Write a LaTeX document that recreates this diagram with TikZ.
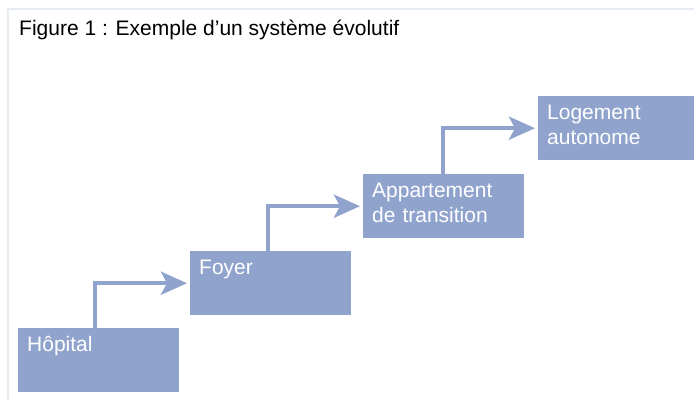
\documentclass[tikz,border=0pt]{standalone}
\usepackage{fontspec}
\setmainfont{Liberation Sans}
\usetikzlibrary{arrows.meta}

\definecolor{stepblue}{RGB}{143,163,204}
\definecolor{framegray}{RGB}{230,234,242}

\begin{document}
\begin{tikzpicture}[x = 1pt, y = 1pt,
		stepbox/.style = {fill = stepblue, text = white, anchor = north west, align = left,
			minimum width = 161pt, text width = 143pt, inner xsep = 9pt, inner ysep = 0pt,
			text height = 23.5pt, text depth = 40.5pt, font = \fontsize{21pt}{25pt}\selectfont},
		steparrow/.style = {stepblue, line width = 4.5pt, shorten > = 3pt,
			-{Stealth[length = 26pt, width = 23pt, inset = 6pt]}}]
		\useasboundingbox (0, 0) rectangle (694, 400);
		% Frame
		\draw[framegray, line width = 1.5pt] (8, 0) -- (8, 391) -- (694, 391);
		% Title
		\node (title) at (19, 364) [anchor = base west, inner sep = 0pt, font = \fontsize{21pt}{25pt}\selectfont] {Figure 1 : Exemple d’un système évolutif};
		% Boxes
		\node (hopital) at (18, 72) [stepbox] {Hôpital};
		\node (foyer) at (190, 149) [stepbox] {Foyer};
		\node (appart) at (363, 226) [stepbox] {Appartement\\de transition};
		\node (logement) at (538, 304) [stepbox] {Logement\\autonome};
		% Arrows
		\draw[steparrow] ([xshift = 77pt] hopital.north west) |- (foyer.west);
		\draw[steparrow] ([xshift = 78pt] foyer.north west) |- (appart.west);
		\draw[steparrow] ([xshift = 80pt] appart.north west) |- (logement.west);
	\end{tikzpicture}
\end{document}
